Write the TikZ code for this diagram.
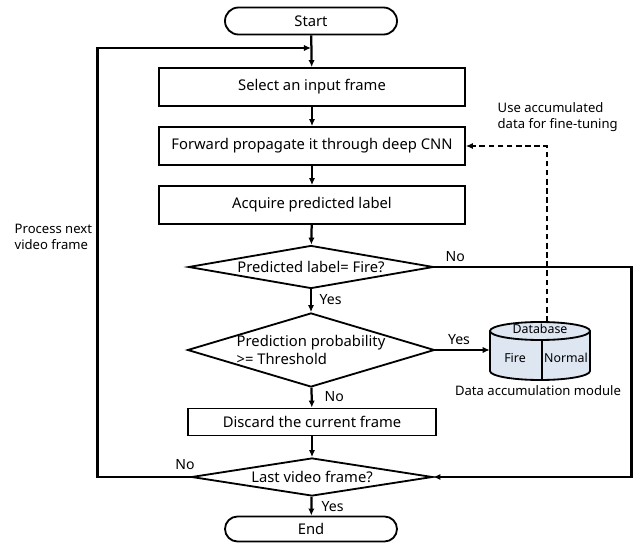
\documentclass[tikz,border=0pt]{standalone}
\usepackage{fontspec}
\setmainfont{Noto Sans}
\usetikzlibrary{shapes.geometric,shapes.misc,arrows.meta}
\newcommand{\pxu}{0.025cm}
\definecolor{dbfill}{RGB}{222,230,242}

\begin{document}
\begin{tikzpicture}[x=\pxu,y=-\pxu,
  font=\fontsize{10.5}{12.5}\selectfont,
  flowbox/.style={draw, line width=1.3pt, rectangle, minimum width=306*\pxu, minimum height=38*\pxu, inner sep=0pt},
  decision/.style={draw, line width=1.3pt, diamond, shape aspect=5.5, inner sep=0pt},
  terminal/.style={draw, line width=1.3pt, rounded rectangle, minimum width=172*\pxu, minimum height=27*\pxu, inner sep=0pt},
  flow/.style={line width=1.6pt, -{Latex[length=5pt,width=4.5pt]}},
  dashflow/.style={line width=1.6pt, dash pattern=on 4pt off 2.5pt, -{Latex[length=5pt,width=4.5pt]}},
  lbl/.style={inner sep=1pt, font=\fontsize{10}{12}\selectfont},
  note/.style={inner sep=1pt, font=\fontsize{9.3}{11.5}\selectfont},
  dbtext/.style={inner sep=1pt, font=\fontsize{8.8}{10}\selectfont}]

\useasboundingbox (0,0) rectangle (638,543);

\node[terminal] (start) at (311,21) {Start};
\node[flowbox] (select) at (312,87) {Select an input frame};
\node[flowbox] (forward) at (312,146) {Forward propagate it through deep CNN};
\node[flowbox] (acquire) at (312,205) {Acquire predicted label};
\node[decision, minimum width=245*\pxu, minimum height=43*\pxu] (isfire) at (311,267) {Predicted label= Fire?};
\node[decision, minimum width=247*\pxu, minimum height=74*\pxu,
  label={[align=left]center:Prediction probability\\>= Threshold}] (prob) at (311,350) {};
\node[flowbox, minimum width=248*\pxu, minimum height=27*\pxu] (discard) at (312,422) {Discard the current frame};
\node[decision, minimum width=241*\pxu, minimum height=38*\pxu] (last) at (312,477) {Last video frame?};
\node[terminal, minimum height=25*\pxu] (end) at (311,529) {End};

% database
\filldraw[fill=dbfill, line width=1.3pt] (490,331) -- (490,371) arc[start angle=180, end angle=0, x radius=50, y radius=9] -- (590,331);
\filldraw[fill=dbfill, line width=1.3pt] (540,331) ellipse[x radius=50, y radius=9];
\draw[line width=1.3pt] (542,340) -- (542,380);
\node (db) at (540,351) [minimum width=100*\pxu, minimum height=58*\pxu, inner sep=0pt] {};
\node[dbtext] (dbname) at (540,329) {Database};
\node[dbtext] (dbfire) at (515,358) {Fire};
\node[dbtext] (dbnormal) at (566,358) {Normal};
\node[note] (dbmodule) at (538,391) {Data accumulation module};

\coordinate (loopTop) at (311,48);

\draw[flow] (start) -- (select);
\draw[flow] (select) -- (forward);
\draw[flow] (forward) -- (acquire);
\draw[flow] (acquire) -- (isfire);
\draw[flow] (isfire) -- (prob);
\draw[flow] (prob) -- (discard);
\draw[flow] (discard) -- (last);
\draw[flow] (last) -- (end);
\draw[flow] (prob.east) -- (prob.east -| db.west);
\draw[flow] (isfire.east) -- ++(197,0) |- (last.east);
\draw[flow] (last.west) -- ++(-93,0) |- (loopTop);
\draw[dashflow] ([xshift=7*\pxu]db.north) |- (forward.east);

\node[lbl, anchor=west] (noFire) at (444,257) {No};
\node[lbl, anchor=west] (yesFire) at (318,300) {Yes};
\node[lbl] (yesProb) at (459,340) {Yes};
\node[lbl, anchor=west] (noProb) at (323,397) {No};
\node[lbl] (noLast) at (185,465) {No};
\node[lbl, anchor=west] (yesLast) at (320,507) {Yes};
\node[note, anchor=west, align=left] (nextFrame) at (13,237) {Process next\\video frame};
\node[note, anchor=west, align=left] (fineTune) at (496,117) {Use accumulated\\data for fine-tuning};
\end{tikzpicture}
\end{document}
